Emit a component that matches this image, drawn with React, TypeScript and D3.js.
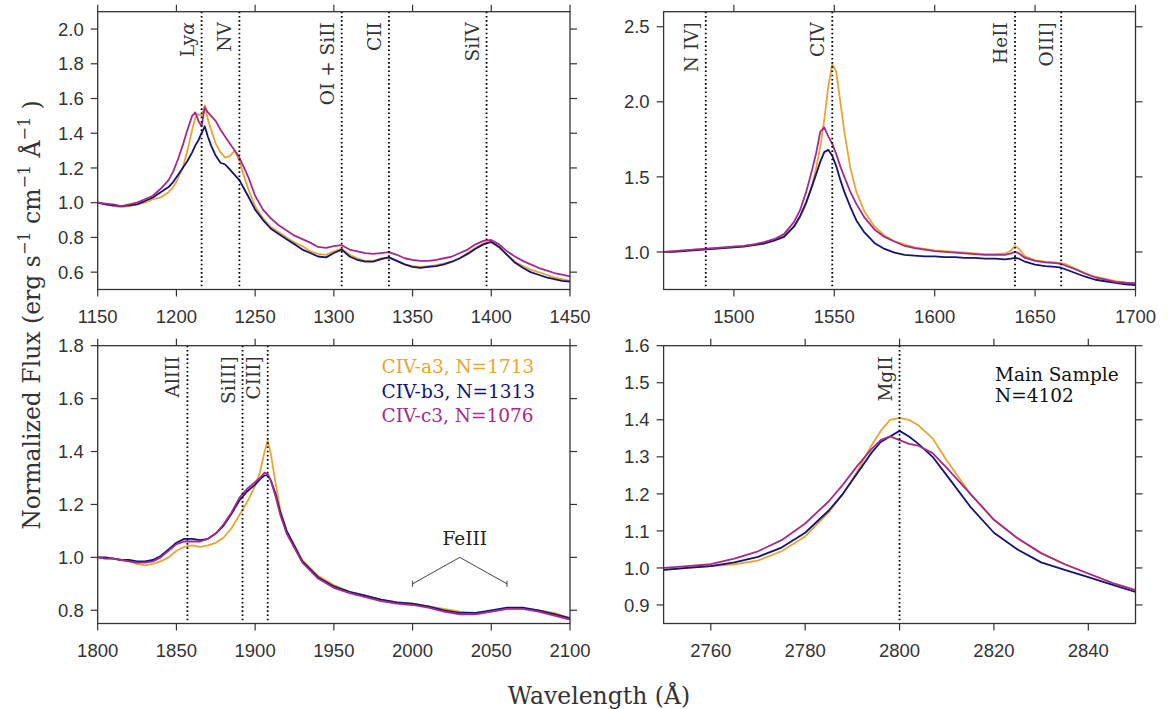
import React from "react";
import * as d3 from "d3";

// ---------- colours ----------
const COLOR_A3 = "#E8A533";
const COLOR_B3 = "#131377";
const COLOR_C3 = "#A62A8C";

// ---------- top-left panel (Lya / NV / SiIV region) ----------
const TL_WAVE = [1150,1155,1160,1165,1170,1175,1180,1185,1190,1195,1198,1201,1204,1207,1210,1212,1214,1216,1218,1220,1222,1225,1228,1231,1234,1237,1240,1243,1246,1250,1255,1260,1265,1270,1275,1280,1285,1290,1295,1300,1305,1310,1315,1320,1325,1330,1335,1340,1345,1350,1355,1360,1365,1370,1375,1380,1385,1390,1395,1400,1405,1410,1415,1420,1425,1430,1435,1440,1445,1450];
const TL_A3 = [1.00,0.99,0.98,0.975,0.98,0.99,1.00,1.02,1.03,1.06,1.09,1.14,1.20,1.30,1.42,1.49,1.51,1.50,1.56,1.48,1.42,1.34,1.29,1.26,1.27,1.30,1.24,1.15,1.07,0.98,0.91,0.86,0.83,0.80,0.77,0.75,0.72,0.705,0.70,0.72,0.735,0.70,0.68,0.665,0.665,0.68,0.685,0.665,0.645,0.635,0.63,0.635,0.64,0.65,0.66,0.68,0.71,0.74,0.765,0.77,0.74,0.70,0.66,0.635,0.615,0.60,0.585,0.57,0.56,0.55];
const TL_B3 = [1.00,0.99,0.985,0.98,0.985,0.99,1.01,1.03,1.06,1.09,1.12,1.16,1.20,1.24,1.29,1.33,1.36,1.40,1.44,1.38,1.33,1.27,1.23,1.22,1.19,1.16,1.13,1.08,1.03,0.96,0.90,0.85,0.82,0.79,0.76,0.73,0.71,0.69,0.685,0.71,0.73,0.69,0.67,0.66,0.66,0.675,0.685,0.665,0.645,0.63,0.625,0.63,0.635,0.645,0.66,0.68,0.705,0.735,0.76,0.775,0.745,0.70,0.655,0.625,0.60,0.585,0.57,0.56,0.55,0.545];
const TL_C3 = [1.00,0.995,0.99,0.98,0.99,1.00,1.02,1.04,1.08,1.13,1.18,1.25,1.33,1.42,1.50,1.52,1.47,1.44,1.55,1.52,1.50,1.47,1.42,1.38,1.34,1.30,1.26,1.20,1.14,1.04,0.96,0.91,0.87,0.84,0.81,0.79,0.77,0.745,0.74,0.75,0.755,0.73,0.72,0.71,0.705,0.71,0.715,0.70,0.68,0.67,0.665,0.665,0.67,0.68,0.69,0.71,0.73,0.76,0.78,0.785,0.76,0.72,0.69,0.665,0.645,0.625,0.61,0.595,0.585,0.575];
const TL_XTICKS = [1150,1200,1250,1300,1350,1400,1450];
const TL_YTICKS = [0.6,0.8,1.0,1.2,1.4,1.6,1.8,2.0];
const TL_LINE_WAVES = [1216,1240,1305,1335,1397];
const TL_LINE_LABELS = ["Ly", "NV", "OI + SiII", "CII", "SiIV"];

// ---------- top-right panel (CIV region) ----------
const TR_WAVE = [1465,1470,1475,1480,1485,1490,1495,1500,1505,1510,1515,1520,1525,1530,1533,1536,1539,1541,1543,1545,1547,1549,1551,1553,1555,1558,1561,1565,1570,1575,1580,1585,1590,1595,1600,1605,1610,1615,1620,1625,1630,1635,1638,1640,1642,1645,1650,1655,1660,1663,1666,1670,1675,1680,1685,1690,1695,1700];
const TR_A3 = [1.00,1.005,1.01,1.015,1.02,1.025,1.03,1.035,1.04,1.05,1.06,1.08,1.11,1.17,1.23,1.32,1.45,1.56,1.70,1.88,2.10,2.25,2.20,2.00,1.80,1.56,1.40,1.27,1.17,1.11,1.07,1.05,1.03,1.02,1.01,1.005,1.00,0.995,0.99,0.985,0.985,0.99,1.01,1.04,1.02,0.97,0.945,0.935,0.93,0.925,0.915,0.89,0.86,0.835,0.82,0.805,0.795,0.79];
const TR_B3 = [1.00,1.00,1.005,1.01,1.015,1.02,1.025,1.03,1.035,1.045,1.055,1.075,1.10,1.17,1.24,1.33,1.44,1.52,1.60,1.665,1.68,1.64,1.57,1.48,1.40,1.30,1.21,1.13,1.06,1.02,0.995,0.98,0.975,0.97,0.97,0.965,0.965,0.96,0.96,0.955,0.955,0.95,0.955,0.96,0.955,0.935,0.915,0.905,0.90,0.895,0.88,0.86,0.835,0.815,0.805,0.795,0.785,0.78];
const TR_C3 = [1.00,1.005,1.01,1.015,1.02,1.025,1.03,1.035,1.04,1.05,1.065,1.085,1.12,1.20,1.28,1.40,1.55,1.66,1.80,1.83,1.77,1.72,1.65,1.57,1.50,1.40,1.32,1.23,1.15,1.10,1.07,1.04,1.025,1.015,1.005,1.00,0.995,0.99,0.985,0.98,0.98,0.98,0.99,1.00,0.99,0.96,0.94,0.93,0.925,0.92,0.905,0.885,0.855,0.83,0.815,0.80,0.795,0.79];
const TR_XTICKS = [1500,1550,1600,1650,1700];
const TR_YTICKS = [1.0,1.5,2.0,2.5];
const TR_LINE_WAVES = [1486,1549,1640,1663];
const TR_LINE_LABELS = ["N IV]", "CIV", "HeII", "OIII]"];

// ---------- bottom-left panel (CIII] region) ----------
const BL_WAVE = [1800,1805,1810,1815,1820,1825,1830,1835,1840,1845,1850,1855,1860,1865,1870,1875,1880,1885,1890,1895,1900,1903,1906,1908,1910,1913,1916,1920,1930,1940,1950,1960,1970,1980,1990,2000,2010,2020,2030,2040,2050,2060,2070,2080,2090,2100];
const BL_A3 = [1.00,0.995,0.995,0.99,0.985,0.975,0.97,0.975,0.985,1.00,1.025,1.04,1.045,1.04,1.045,1.055,1.075,1.11,1.16,1.21,1.27,1.32,1.40,1.44,1.39,1.28,1.18,1.10,0.99,0.93,0.895,0.87,0.855,0.84,0.83,0.825,0.815,0.805,0.795,0.79,0.795,0.805,0.805,0.80,0.79,0.77];
const BL_B3 = [1.00,1.00,0.995,0.99,0.99,0.985,0.985,0.99,1.005,1.03,1.055,1.07,1.07,1.065,1.07,1.09,1.12,1.165,1.215,1.25,1.275,1.295,1.31,1.31,1.29,1.24,1.17,1.10,0.985,0.925,0.89,0.87,0.855,0.84,0.83,0.825,0.815,0.80,0.79,0.79,0.80,0.81,0.81,0.80,0.785,0.77];
const BL_C3 = [1.00,0.995,0.995,0.99,0.985,0.98,0.98,0.985,1.00,1.025,1.05,1.06,1.06,1.06,1.07,1.09,1.125,1.17,1.225,1.26,1.285,1.30,1.32,1.315,1.29,1.23,1.16,1.09,0.98,0.92,0.885,0.865,0.85,0.835,0.825,0.82,0.81,0.795,0.785,0.785,0.795,0.805,0.805,0.795,0.78,0.765];
const BL_XTICKS = [1800,1850,1900,1950,2000,2050,2100];
const BL_YTICKS = [0.8,1.0,1.2,1.4,1.6,1.8];
const BL_LINE_WAVES = [1857,1892,1908];
const BL_LINE_LABELS = ["AlIII", "SiIII]", "CIII]"];
const FEIII_WAVES = [2000,2030,2060];
const FEIII_FLUX = [0.90,1.0,0.90];
const FEIII_LABEL_AT = [2019,1.045];

// ---------- bottom-right panel (MgII region) ----------
const BR_WAVE = [2750,2755,2760,2765,2770,2775,2780,2785,2788,2791,2794,2796,2798,2800,2802,2804,2807,2810,2815,2820,2825,2830,2835,2840,2845,2850];
const BR_A3 = [0.995,1.00,1.005,1.01,1.02,1.045,1.085,1.15,1.20,1.26,1.33,1.37,1.40,1.405,1.40,1.385,1.35,1.29,1.20,1.13,1.08,1.04,1.01,0.985,0.96,0.94];
const BR_B3 = [0.995,1.00,1.005,1.015,1.03,1.055,1.095,1.155,1.20,1.255,1.31,1.34,1.355,1.37,1.355,1.335,1.30,1.25,1.165,1.095,1.05,1.015,0.995,0.975,0.955,0.935];
const BR_C3 = [1.00,1.005,1.01,1.025,1.045,1.075,1.12,1.18,1.225,1.275,1.32,1.345,1.355,1.345,1.335,1.33,1.31,1.27,1.20,1.13,1.08,1.04,1.01,0.985,0.96,0.94];
const BR_XTICKS = [2760,2780,2800,2820,2840];
const BR_YTICKS = [0.9,1.0,1.1,1.2,1.3,1.4,1.5,1.6];
const BR_LINE_WAVES = [2800];
const BR_LINE_LABELS = ["MgII"];

// ---------- legend / annotations ----------
const LEGEND_LABELS = ["CIV-a3, N=1713", "CIV-b3, N=1313", "CIV-c3, N=1076"];
const LEGEND_COLORS = [COLOR_A3, COLOR_B3, COLOR_C3];
const SAMPLE_TEXT = ["Main Sample", "N=4102"];

const SANS = "'Liberation Sans', Arial, sans-serif";
const SERIF = "'DejaVu Serif', serif";
const AXIS_COLOR = "#333";
const TICK_FONT = 18.5;
const NOTE_FONT = 18.5;
const LABEL_FONT = 23.5;

type PanelDef = {
  id: string;
  box: [number, number, number, number]; // x0, x1, y0, y1
  xDomain: [number, number];
  yDomain: [number, number];
  xTicks: number[];
  yTicks: number[];
  wave: number[];
  series: number[][];
  lineWaves: number[];
  lineLabels: string[];
};

const PANELS: PanelDef[] = [
  { id: "tl", box: [97.7, 570, 11.7, 289.5], xDomain: [1150, 1450], yDomain: [0.5, 2.1], xTicks: TL_XTICKS, yTicks: TL_YTICKS, wave: TL_WAVE, series: [TL_A3, TL_B3, TL_C3], lineWaves: TL_LINE_WAVES, lineLabels: TL_LINE_LABELS },
  { id: "tr", box: [663.6, 1135.5, 11.7, 289.5], xDomain: [1465, 1700], yDomain: [0.75, 2.6], xTicks: TR_XTICKS, yTicks: TR_YTICKS, wave: TR_WAVE, series: [TR_A3, TR_B3, TR_C3], lineWaves: TR_LINE_WAVES, lineLabels: TR_LINE_LABELS },
  { id: "bl", box: [97.7, 570, 345.7, 623.5], xDomain: [1800, 2100], yDomain: [0.75, 1.8], xTicks: BL_XTICKS, yTicks: BL_YTICKS, wave: BL_WAVE, series: [BL_A3, BL_B3, BL_C3], lineWaves: BL_LINE_WAVES, lineLabels: BL_LINE_LABELS },
  { id: "br", box: [663.6, 1135.5, 345.7, 623.5], xDomain: [2750, 2850], yDomain: [0.85, 1.6], xTicks: BR_XTICKS, yTicks: BR_YTICKS, wave: BR_WAVE, series: [BR_A3, BR_B3, BR_C3], lineWaves: BR_LINE_WAVES, lineLabels: BR_LINE_LABELS },
];

const TICK = 7;

function Panel({ p }: { p: PanelDef }) {
  const [x0, x1, y0, y1] = p.box;
  const x = d3.scaleLinear().domain(p.xDomain).range([x0, x1]);
  const y = d3.scaleLinear().domain(p.yDomain).range([y1, y0]);
  const fmt = d3.format(".1f");
  const lineGen = (w: number[]) =>
    d3.line<number>().x((_, i) => x(w[i])).y((d) => y(d));
  const colors = [COLOR_A3, COLOR_B3, COLOR_C3];
  return (
    <g>
      <defs>
        <clipPath id={`clip-${p.id}`}>
          <rect x={x0} y={y0} width={x1 - x0} height={y1 - y0} />
        </clipPath>
      </defs>
      <g clipPath={`url(#clip-${p.id})`}>
        {p.series.map((s, i) => (
          <path key={i} d={lineGen(p.wave)(s) || ""} fill="none" stroke={colors[i]} strokeWidth={1.8} strokeLinejoin="round" />
        ))}
      </g>
      {p.lineWaves.map((w, i) => (
        <g key={i}>
          <line x1={x(w)} x2={x(w)} y1={y0} y2={y1} stroke="#000" strokeWidth={1.8} strokeDasharray="1.6,2.6" />
          <text
            transform={`translate(${x(w) - 8},${y0 + 10.5}) rotate(-90)`}
            textAnchor="end"
            fontFamily={SERIF}
            fontSize={NOTE_FONT}
            fill="#333"
          >
            {p.lineLabels[i] === "Ly" ? (
              <>
                Ly<tspan fontStyle="italic">α</tspan>
              </>
            ) : (
              p.lineLabels[i]
            )}
          </text>
        </g>
      ))}
      <rect x={x0} y={y0} width={x1 - x0} height={y1 - y0} fill="none" stroke={AXIS_COLOR} strokeWidth={1.3} />
      {p.xTicks.map((t) => (
        <g key={`x${t}`}>
          <line x1={x(t)} x2={x(t)} y1={y1} y2={y1 + TICK} stroke={AXIS_COLOR} strokeWidth={1.2} />
          <line x1={x(t)} x2={x(t)} y1={y0} y2={y0 - TICK} stroke={AXIS_COLOR} strokeWidth={1.2} />
          <text x={x(t)} y={y1 + 33} textAnchor="middle" fontFamily={SANS} fontSize={TICK_FONT} fill="#333">
            {t}
          </text>
        </g>
      ))}
      {p.yTicks.map((t) => (
        <g key={`y${t}`}>
          <line x1={x0} x2={x0 - TICK} y1={y(t)} y2={y(t)} stroke={AXIS_COLOR} strokeWidth={1.2} />
          <line x1={x1} x2={x1 + TICK} y1={y(t)} y2={y(t)} stroke={AXIS_COLOR} strokeWidth={1.2} />
          <text x={x0 - 14} y={y(t)} dy="0.36em" textAnchor="end" fontFamily={SANS} fontSize={TICK_FONT} fill="#333">
            {fmt(t)}
          </text>
        </g>
      ))}
    </g>
  );
}

export default function App() {
  const bl = PANELS[2];
  const xb = d3.scaleLinear().domain(bl.xDomain).range([bl.box[0], bl.box[1]]);
  const yb = d3.scaleLinear().domain(bl.yDomain).range([bl.box[3], bl.box[2]]);
  const bracket = d3.line<number>().x((_, i) => xb(FEIII_WAVES[i])).y((d) => yb(d))(FEIII_FLUX) || "";
  return (
    <svg
      width={1168}
      height={709}
      style={{ position: "absolute", left: 0, top: 0, background: "#fff" }}
    >
      <rect width={1168} height={709} fill="#fff" />
      {PANELS.map((p) => (
        <Panel key={p.id} p={p} />
      ))}
      {/* FeIII bracket */}
      <path d={bracket} fill="none" stroke="#444" strokeWidth={1} />
      {[0, 2].map((i) => (
        <line key={i} x1={xb(FEIII_WAVES[i])} x2={xb(FEIII_WAVES[i])} y1={yb(FEIII_FLUX[i]) - 3} y2={yb(FEIII_FLUX[i]) + 3} stroke="#444" strokeWidth={1} />
      ))}
      <text x={xb(FEIII_LABEL_AT[0])} y={yb(FEIII_LABEL_AT[1])} fontFamily={SERIF} fontSize={NOTE_FONT} fill="#222">
        FeIII
      </text>
      {/* legend */}
      {LEGEND_LABELS.map((l, i) => (
        <text key={l} x={381.5} y={373 + i * 24.5} fontFamily={SERIF} fontSize={NOTE_FONT} fill={LEGEND_COLORS[i]}>
          {l}
        </text>
      ))}
      {/* main sample */}
      {SAMPLE_TEXT.map((s, i) => (
        <text key={s} x={995} y={381 + i * 21} fontFamily={SERIF} fontSize={NOTE_FONT} fill="#111">
          {s}
        </text>
      ))}
      {/* axis labels */}
      <text transform="translate(40,315) rotate(-90)" textAnchor="middle" fontFamily={SERIF} fontSize={LABEL_FONT} fill="#333">
        Normalized Flux (erg s<tspan fontSize={16} dy={-10}>−1</tspan>
        <tspan dy={10}> cm</tspan>
        <tspan fontSize={16} dy={-10}>−1</tspan>
        <tspan dy={10}> Å</tspan>
        <tspan fontSize={16} dy={-10}>−1</tspan>
        <tspan dy={10}> )</tspan>
      </text>
      <text x={599} y={704} textAnchor="middle" fontFamily={SERIF} fontSize={LABEL_FONT} fill="#333">
        Wavelength (Å)
      </text>
    </svg>
  );
}
